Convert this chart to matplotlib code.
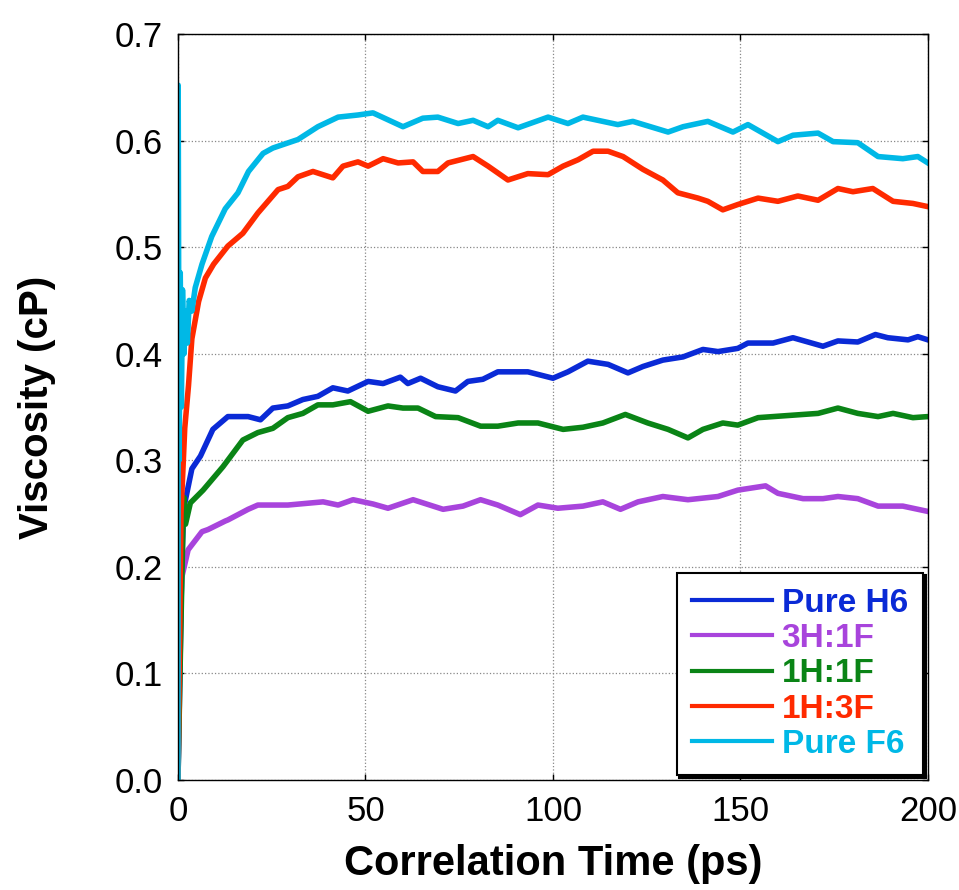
import matplotlib.pyplot as plt

# Correlation time (ps) and viscosity (cP)
t_h6 = [0, 1.0, 1.5, 2, 3.7, 6, 9.3, 13.3, 18.7, 22, 25.3, 29.3, 33.3, 37.3, 41.3, 45.3, 50.7, 54.7,
        59.3, 61.3, 64.7, 69.3, 74, 77.3, 81.3, 85.3, 89.3, 93.3, 100, 104, 109.3, 114.7, 120, 124,
        129.3, 134.7, 140, 144, 149.3, 152, 158.7, 164, 172, 176, 181.3, 186, 189.3, 194.7, 197.3, 200]
v_h6 = [0, 0.20, 0.255, 0.263, 0.292, 0.304, 0.329, 0.341, 0.341, 0.338, 0.349, 0.351, 0.357, 0.360,
        0.368, 0.365, 0.374, 0.372, 0.378, 0.372, 0.377, 0.369, 0.365, 0.374, 0.376, 0.383, 0.383,
        0.383, 0.377, 0.383, 0.393, 0.390, 0.382, 0.388, 0.394, 0.397, 0.404, 0.402, 0.405, 0.410,
        0.410, 0.415, 0.407, 0.412, 0.411, 0.418, 0.415, 0.413, 0.416, 0.413]

t_3h1f = [0, 0.5, 1.0, 2.7, 6.4, 8, 12.6, 13.3, 18.7, 21.3, 29.3, 38.7, 42.7, 46.7, 52, 56, 62.7, 70.7,
          76, 80.7, 85.3, 91.3, 96, 101.3, 108, 113.3, 118, 122.7, 129.3, 136, 144, 149.3, 156.7, 160,
          166.7, 172, 176, 181.3, 186.7, 193.3, 200]
v_3h1f = [0, 0.13, 0.19, 0.216, 0.233, 0.235, 0.243, 0.244, 0.254, 0.258, 0.258, 0.261, 0.258, 0.263,
          0.259, 0.255, 0.263, 0.254, 0.257, 0.263, 0.258, 0.249, 0.258, 0.255, 0.257, 0.261, 0.254,
          0.261, 0.266, 0.263, 0.266, 0.272, 0.276, 0.269, 0.264, 0.264, 0.266, 0.264, 0.257, 0.257, 0.252]

t_1h1f = [0, 0.7, 1.3, 1.6, 2, 3.3, 6.7, 12, 17.3, 21.3, 25.3, 29.3, 33.3, 37.3, 41.3, 46, 50.7, 56, 60,
          64, 68.7, 74.7, 80.7, 85.3, 90.7, 96, 102.7, 108, 113.3, 119.3, 125.3, 130.7, 136, 140, 145.3,
          149.3, 154.7, 162.7, 170.7, 176, 181.3, 186.7, 190.7, 196, 200]
v_1h1f = [0, 0.13, 0.235, 0.265, 0.24, 0.260, 0.272, 0.294, 0.319, 0.326, 0.330, 0.340, 0.344, 0.352,
          0.352, 0.355, 0.346, 0.351, 0.349, 0.349, 0.341, 0.340, 0.332, 0.332, 0.335, 0.335, 0.329,
          0.331, 0.335, 0.343, 0.335, 0.329, 0.321, 0.329, 0.335, 0.333, 0.340, 0.342, 0.344, 0.349,
          0.344, 0.341, 0.344, 0.340, 0.341]

t_1h3f = [0, 0.8, 1.8, 2.8, 3.7, 5.5, 7.3, 9.5, 13.3, 17.3, 21.3, 26.7, 29.3, 32, 36, 41.3, 44, 48,
          50.7, 54.7, 58.7, 62.7, 65.3, 69.3, 72, 78.7, 82.7, 88, 93.3, 98.7, 102.7, 106.7, 110.7,
          114.7, 118.7, 124, 129.3, 133.3, 138.7, 141.3, 145.3, 149.3, 154.7, 160, 165.3, 170.7, 176,
          180, 185.3, 190.7, 196, 200]
v_1h3f = [0, 0.25, 0.33, 0.37, 0.414, 0.449, 0.471, 0.484, 0.501, 0.513, 0.532, 0.554, 0.557, 0.566,
          0.571, 0.565, 0.576, 0.580, 0.576, 0.583, 0.579, 0.580, 0.571, 0.571, 0.579, 0.585, 0.576,
          0.563, 0.569, 0.568, 0.576, 0.582, 0.590, 0.590, 0.585, 0.573, 0.563, 0.551, 0.546, 0.543,
          0.535, 0.540, 0.546, 0.543, 0.548, 0.544, 0.555, 0.552, 0.555, 0.543, 0.541, 0.538]

t_f6 = [0, 0.05, 0.3, 0.6, 0.9, 1.2, 1.6, 2, 2.5, 3, 3.7, 4.6, 6.4, 9, 12.6, 16, 18.8, 22.7, 25.3, 32,
        37.3, 42.7, 48, 52, 60, 65.3, 69.3, 74.7, 78.7, 82.7, 85.3, 90.7, 98.7, 104, 108, 117.3, 121.3,
        130.7, 134.7, 141.3, 148, 152, 160, 164, 170.7, 174.7, 181.3, 186.7, 193.3, 197.3, 200]
v_f6 = [0, 0.652, 0.30, 0.476, 0.35, 0.46, 0.40, 0.44, 0.41, 0.45, 0.44, 0.462, 0.484, 0.51, 0.536,
        0.551, 0.571, 0.588, 0.593, 0.601, 0.613, 0.622, 0.624, 0.626, 0.613, 0.621, 0.622, 0.616,
        0.619, 0.613, 0.619, 0.612, 0.622, 0.616, 0.622, 0.615, 0.618, 0.608, 0.613, 0.618, 0.608,
        0.615, 0.599, 0.605, 0.607, 0.599, 0.598, 0.585, 0.583, 0.585, 0.579]

labels = ['Pure H6', '3H:1F', '1H:1F', '1H:3F', 'Pure F6']
colors = ['#0A2AD6', '#A844DC', '#0A8416', '#FF2A00', '#00B8E6']

plt.rcParams['font.family'] = ['Liberation Sans', 'DejaVu Sans']

fig = plt.figure(figsize=(9.59, 8.9), dpi=100)
ax = fig.add_axes([0.1856, 0.1236, 0.782, 0.8382])

series = [(t_h6, v_h6), (t_3h1f, v_3h1f), (t_1h1f, v_1h1f), (t_1h3f, v_1h3f), (t_f6, v_f6)]
for (t, v), lab, col in zip(series, labels, colors):
    ax.plot(t, v, color=col, lw=4, label=lab, solid_joinstyle='round')

ax.set_xlim(0, 200)
ax.set_ylim(0, 0.7)
ax.set_xticks([0, 50, 100, 150, 200])
ax.set_yticks([0.0, 0.1, 0.2, 0.3, 0.4, 0.5, 0.6, 0.7])
ax.set_yticklabels(['0.0', '0.1', '0.2', '0.3', '0.4', '0.5', '0.6', '0.7'])
ax.tick_params(direction='in', length=4, width=1, labelsize=25, pad=11,
               top=True, right=True)
ax.grid(True, linestyle=':', color='#888888', linewidth=0.9)
for s in ax.spines.values():
    s.set_linewidth(1)

ax.set_xlabel('Correlation Time (ps)', fontsize=30, fontweight='bold', labelpad=11)
ax.set_ylabel('Viscosity (cP)', fontsize=29, fontweight='bold', labelpad=42)

leg = ax.legend(loc='lower right', prop={'weight': 'bold', 'size': 24},
                labelcolor='linecolor', fancybox=False, framealpha=1,
                edgecolor='black', shadow={'color': 'black', 'alpha': 1},
                handlelength=2.4, handletextpad=0.3, labelspacing=0.13,
                borderaxespad=0.15, borderpad=0.45)
leg.get_frame().set_linewidth(1.5)
for line in leg.get_lines():
    line.set_linewidth(3)

fig.savefig('out.png', dpi=100)
plt.close(fig)
